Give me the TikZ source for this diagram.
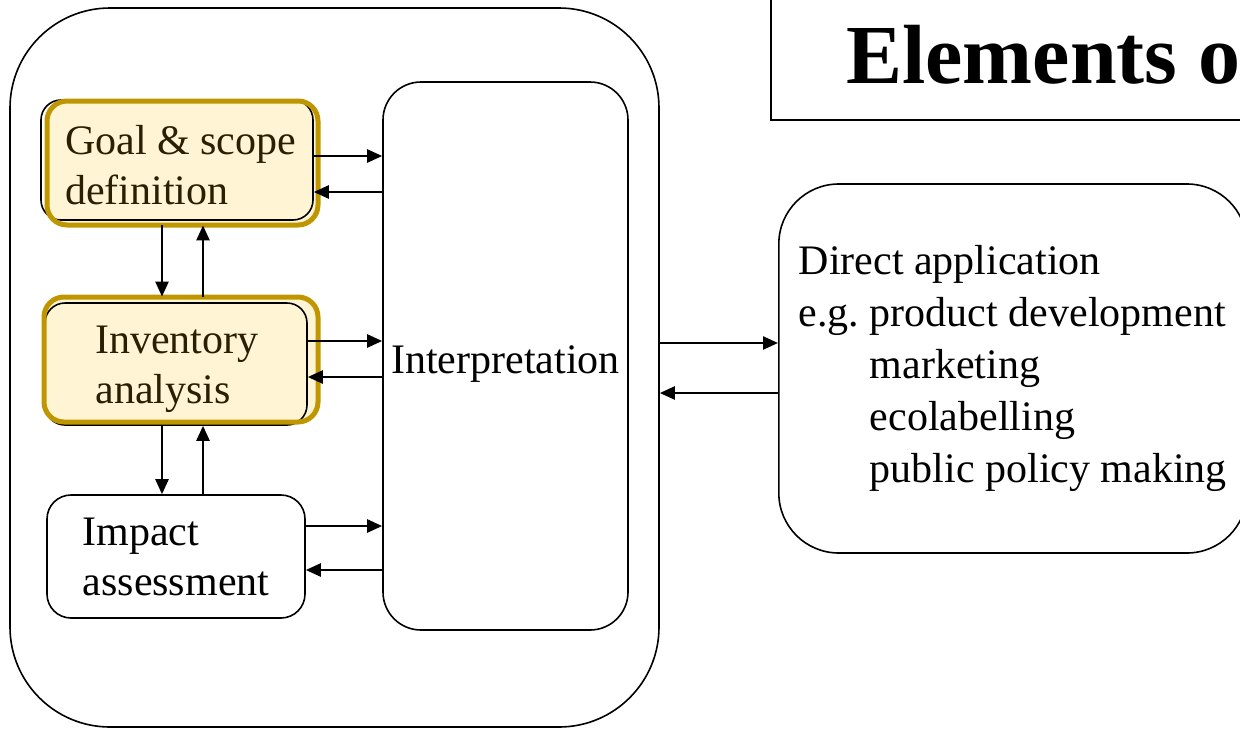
\documentclass[tikz,border=0pt]{standalone}
\usepackage{fontspec}
\setmainfont{Liberation Serif}
\usetikzlibrary{arrows.meta}
\definecolor{lcagold}{RGB}{192,150,0}
\definecolor{lcacream}{RGB}{255,245,212}
\definecolor{lcaink}{RGB}{40,32,0}
\tikzset{
	framebox/.style={draw, line width=0.8pt, rounded corners=#1, inner sep=0pt},
	framebox/.default=50pt,
	stagebox/.style={draw, line width=0.8pt, rounded corners=10pt, inner sep=0pt, align=left},
	goldfill/.style={fill=lcacream, rounded corners=10pt, inner sep=0pt},
	goldrim/.style={draw=lcagold, line width=2.5pt, rounded corners=10pt, inner sep=0pt},
	goldtext/.style={align=left, text=lcaink, inner sep=0pt},
	flow/.style={line width=1.2pt, -{Triangle[length=7.5pt,width=6.5pt]}},
}

\begin{document}
\begin{tikzpicture}[x=0.5pt, y=-0.5pt, font=\fontsize{21pt}{25pt}\selectfont]
			%%%%% START %%%%%
			\useasboundingbox (0,0) rectangle (1240,728);
			\clip (0,0) rectangle (1240,728);
			
			%% title bar
			\node[draw, line width=0.7pt, minimum width=250pt, minimum height=65pt, inner sep=0pt] (titlebar) at (1021,55) {};
			\node[anchor=base west, font=\fontsize{42pt}{48pt}\selectfont\bfseries] (title) at (839,83) {Elements o};
			
			%% LCA frame
			\node[framebox, minimum width=324.5pt, minimum height=359.5pt] (lca) at (334.5,367.5) {};
			\node[framebox=19pt, minimum width=122.5pt, minimum height=274pt, text height=22pt] (interp) at (505.5,356) {Interpretation};
			
			%% stages
			\node[goldfill, minimum width=135.5pt, minimum height=62pt] (goal) at (182.5,163) {};
			\node[stagebox, minimum width=136pt, minimum height=60pt] (goalbk) at (177,160) {};
			\node[goldrim, minimum width=135.5pt, minimum height=62pt] (goalrim) at (182.5,163) {};
			\node[goldtext] (goaltxt) at ([xshift=-1pt, yshift=-1pt]goal.center) {Goal \& scope\\definition};
			
			\node[goldfill, minimum width=137pt, minimum height=62.5pt] (inv) at (181,359.5) {};
			\node[stagebox, minimum width=131pt, minimum height=61pt] (invbk) at (176,364) {};
			\node[goldrim, minimum width=137pt, minimum height=62.5pt] (invrim) at (181,359.5) {};
			\node[goldtext] (invtxt) at ([xshift=-2pt, yshift=-5pt]inv.center) {Inventory\\analysis};
			
			\node[stagebox, rounded corners=12pt, minimum width=129pt, minimum height=61.5pt] (impact) at (176,556.5) {Impact\\assessment};
			
			%% application
			\node[framebox=30pt, anchor=west, minimum height=184.5pt, inner xsep=10pt, align=left,
				font=\fontsize{21pt}{25.9pt}\selectfont] (direct) at (778,368.5)
				{Direct application\\
				e.g.\ product development\\
				\phantom{e.g.\ }marketing\\
				\phantom{e.g.\ }ecolabelling\\
				\phantom{e.g.\ }public policy making};
			
			%% flows to and from interpretation
			\draw[flow] (goalbk.east |- 0,156) -- (interp.west |- 0,156);
			\draw[flow] (interp.west |- 0,192) -- (goalbk.east |- 0,192);
			\draw[flow] (invbk.east |- 0,341) -- (interp.west |- 0,341);
			\draw[flow] (interp.west |- 0,377) -- (invbk.east |- 0,377);
			\draw[flow] (impact.east |- 0,526) -- (interp.west |- 0,526);
			\draw[flow] (interp.west |- 0,570) -- (impact.east |- 0,570);
			
			%% flows between stages
			\draw[flow] (162,0 |- goal.south) -- (162,0 |- inv.north);
			\draw[flow] (203,0 |- inv.north) -- (203,0 |- goal.south);
			\draw[flow] (162,0 |- invbk.south) -- (162,0 |- impact.north);
			\draw[flow] (203,0 |- impact.north) -- (203,0 |- invbk.south);
			
			%% flows to and from application
			\draw[flow] (lca.east |- 0,343) -- (direct.west |- 0,343);
			\draw[flow] (direct.west |- 0,393) -- (lca.east |- 0,393);
			
			%%%%% END %%%%%
\end{tikzpicture}
\end{document}
